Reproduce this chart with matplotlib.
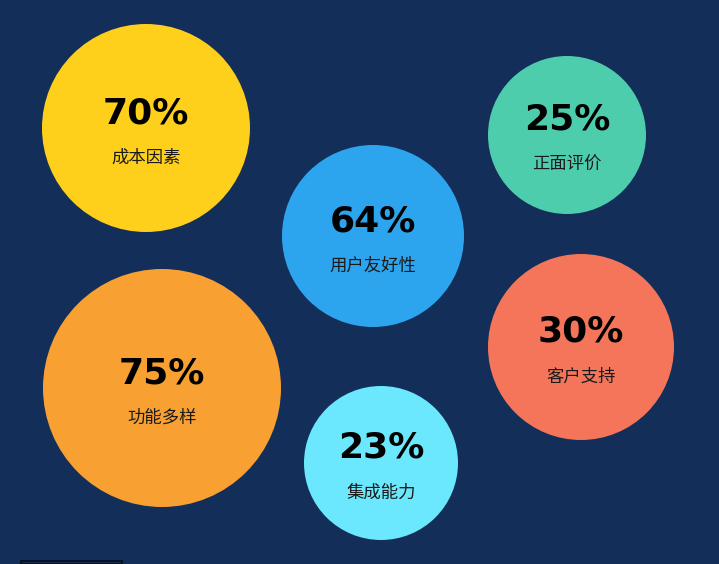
import matplotlib
matplotlib.use("Agg")
import matplotlib.pyplot as plt
from matplotlib.patches import Circle, Rectangle

labels = ["成本因素", "正面评价", "用户友好性", "功能多样", "客户支持", "集成能力"]
values = [70, 25, 64, 75, 30, 23]
x_pos = [146, 567, 373, 162, 581, 381]
y_pos = [128, 135, 236, 388, 347, 463]
radii = [104, 79, 91, 119, 93, 77]
colors = ["#FECF1B", "#4ECDAD", "#2DA5EE", "#F8A132", "#F4755A", "#6BE8FD"]

W, H = 719, 564
fig = plt.figure(figsize=(W / 100, H / 100), dpi=100)
fig.patch.set_facecolor("#132E58")
ax = fig.add_axes([0, 0, 1, 1])
ax.set_facecolor("#132E58")
ax.set_xlim(0, W)
ax.set_ylim(H, 0)
ax.set_aspect("equal")
ax.axis("off")

for lab, v, x, y, r, c in zip(labels, values, x_pos, y_pos, radii, colors):
    ax.add_patch(Circle((x, y), r, facecolor=c, edgecolor="none"))
    ax.text(x, y - 15, f"{v}%", ha="center", va="center", fontsize=26,
            fontweight="heavy", color="black", family=["DejaVu Sans"])
    ax.text(x, y + 30, lab, ha="center", va="center", fontsize=12.5,
            color="#1a1a1a", family=["Noto Sans CJK SC", "DejaVu Sans"])

fig.patches.append(Rectangle((21 / W, 0), 101 / W, 3 / H, transform=fig.transFigure,
                             facecolor="none", edgecolor="#050d1a", linewidth=1.2))

fig.savefig("out.png", dpi=100, facecolor=fig.get_facecolor())
